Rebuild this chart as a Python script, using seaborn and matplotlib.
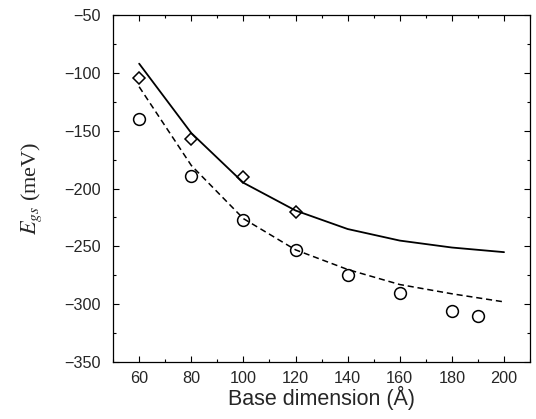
import matplotlib
matplotlib.use('Agg')
import matplotlib.pyplot as plt
import seaborn as sns
import pandas as pd
from matplotlib.ticker import MultipleLocator

# solid curve (theory 1)
solid_x = [60, 80, 100, 120, 140, 160, 180, 200]
solid_y = [-92, -152, -195, -219, -235, -245, -251, -255]

# dashed curve (theory 2)
dashed_x = [60, 80, 100, 120, 140, 160, 180, 200]
dashed_y = [-112, -180, -226, -253, -270, -283, -291, -298]

# diamonds
diamond_x = [60, 80, 100, 120]
diamond_y = [-104, -157.5, -190, -220]

# circles
circle_x = [60, 80, 100, 120, 140, 160, 180, 190]
circle_y = [-139.5, -189, -227, -253.5, -275, -290.5, -305.5, -310]

sns.set_style('ticks')
plt.rcParams['font.family'] = ['Liberation Sans', 'DejaVu Sans']
plt.rcParams['mathtext.fontset'] = 'stix'

fig = plt.figure(figsize=(5.36, 4.19), dpi=100)
ax = fig.add_axes([0.211, 0.136, 0.778, 0.828])

sns.lineplot(x=solid_x, y=solid_y, ax=ax, color='black', linewidth=1.3)
sns.lineplot(x=dashed_x, y=dashed_y, ax=ax, color='black', linewidth=1.1,
             linestyle=(0, (4, 2.5)))
ax.plot(diamond_x, diamond_y, linestyle='none', marker='D', markersize=6.5,
        markerfacecolor='none', markeredgecolor='black', markeredgewidth=1.1)
ax.plot(circle_x, circle_y, linestyle='none', marker='o', markersize=8.5,
        markerfacecolor='none', markeredgecolor='black', markeredgewidth=1.1)

ax.set_xlim(50, 210)
ax.set_ylim(-350, -50)
ax.xaxis.set_major_locator(MultipleLocator(20))
ax.xaxis.set_minor_locator(MultipleLocator(10))
ax.yaxis.set_major_locator(MultipleLocator(50))
ax.yaxis.set_minor_locator(MultipleLocator(25))
ax.set_xticks(range(60, 201, 20))
ax.tick_params(which='both', direction='in', top=True, right=True,
               labelsize=11.7, width=0.8, color='black')
ax.tick_params(which='major', length=4)
ax.tick_params(which='minor', length=2.5)
ax.tick_params(axis='x', which='major', pad=6.5)
ax.tick_params(axis='y', which='major', pad=9)
for s in ax.spines.values():
    s.set_linewidth(0.9)
    s.set_color('black')

ax.set_xlabel('Base dimension (Å)', fontsize=15.5, labelpad=0)
ax.set_ylabel(r'$E_{gs}$ (meV)', fontsize=16, family='Liberation Serif')
ax.yaxis.set_label_coords(-0.165, 0.5)

fig.savefig('out.png', dpi=100)
